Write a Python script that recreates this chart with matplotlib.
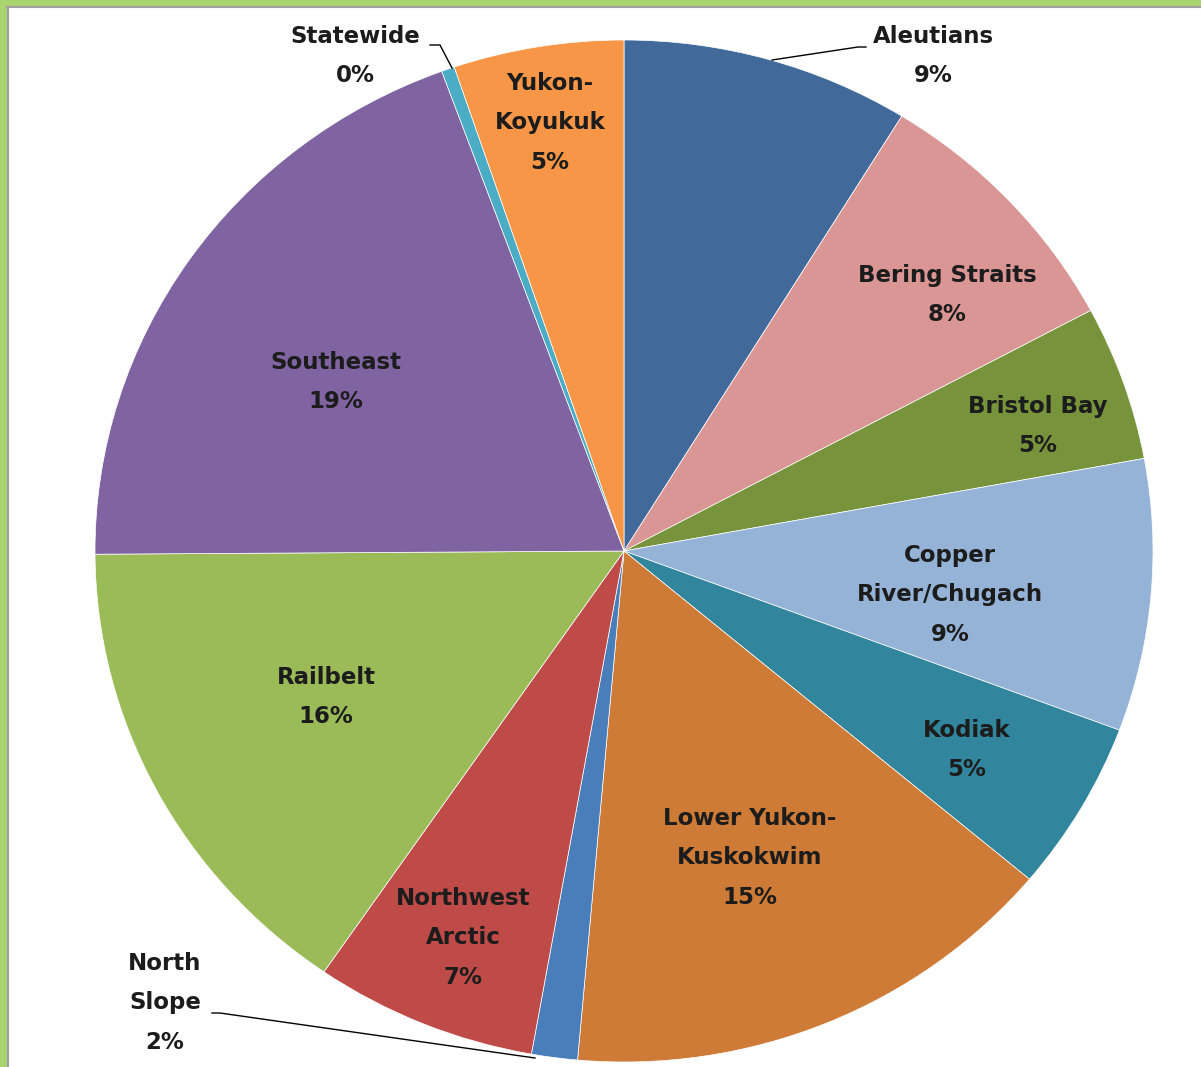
import matplotlib
matplotlib.use("Agg")
import matplotlib.pyplot as plt
from matplotlib.patches import Rectangle
from matplotlib.lines import Line2D

# ---- data (clockwise from 12 o'clock) ----
regions = ["Aleutians", "Bering Straits", "Bristol Bay", "Copper\nRiver/Chugach",
           "Kodiak", "Lower Yukon-\nKuskokwim", "North\nSlope", "Northwest\nArctic",
           "Railbelt", "Southeast", "Statewide", "Yukon-\nKoyukuk"]
shares = [8.8, 8.4, 4.9, 8.6, 5.4, 15.3, 1.4, 6.8, 15.3, 19.5, 0.4, 5.2]
pct_labels = ["9%", "8%", "5%", "9%", "5%", "15%", "2%", "7%", "16%", "19%", "0%", "5%"]
colors = ["#416A9B", "#D99694", "#77933C", "#95B3D7", "#31859C", "#CD7B37",
          "#4A7EBB", "#BE4B48", "#9BBB59", "#8064A2", "#4BACC6", "#F79646"]

W, H = 1201, 1067
fig = plt.figure(figsize=(W / 100, H / 100), dpi=100)
fig.patch.set_facecolor("white")

# pie axes (pixel box: x 95..1153, y 40..1062 from top)
ax = fig.add_axes([95 / W, (H - 1062) / H, 1058 / W, 1022 / H])
ax.pie(shares, colors=colors, startangle=90, counterclock=False,
       wedgeprops=dict(edgecolor="white", linewidth=0.5))
ax.set_aspect("auto")
ax.set_xlim(-1, 1)
ax.set_ylim(-1, 1)
ax.axis("off")

# label positions in pixels (x, y from top) -- layout only
label_pos = [(933, 56), (947, 295), (1038, 426), (950, 595), (967, 750),
             (750, 858), (165, 1003), (463, 938), (326, 697), (336, 382),
             (355, 56), (550, 123)]

for name, pct, (px, py) in zip(regions, pct_labels, label_pos):
    fig.text(px / W, 1 - py / H, name + "\n" + pct, ha="center", va="center",
             fontsize=16.5, fontweight="bold", family="DejaVu Sans", color="#1c1c1c",
             linespacing=1.9)

# leader lines (pixels)
def pline(xs, ys):
    fig.add_artist(Line2D([x / W for x in xs], [1 - y / H for y in ys],
                         color="black", lw=1.0, transform=fig.transFigure))

pline([866, 858, 772], [47, 47, 60])          # Aleutians
pline([430, 440, 452], [45, 45, 68])          # Statewide
pline([212, 220, 535], [1013, 1013, 1058])    # North Slope

# window frame (green band at top and left, thin grey rule)
fig.add_artist(Rectangle((0, 1 - 6 / H), 1, 6 / H, transform=fig.transFigure,
                         facecolor="#AAD46E", edgecolor="none"))
fig.add_artist(Rectangle((0, 0), 7 / W, 1, transform=fig.transFigure,
                         facecolor="#AAD46E", edgecolor="none"))
fig.add_artist(Line2D([7 / W, 1], [1 - 7 / H, 1 - 7 / H], color="#A0A0A0",
                      lw=1.5, transform=fig.transFigure))
fig.add_artist(Line2D([8 / W, 8 / W], [0, 1 - 7 / H], color="#A0A0A0",
                      lw=1.5, transform=fig.transFigure))

fig.savefig("out.png", dpi=100, facecolor="white")
